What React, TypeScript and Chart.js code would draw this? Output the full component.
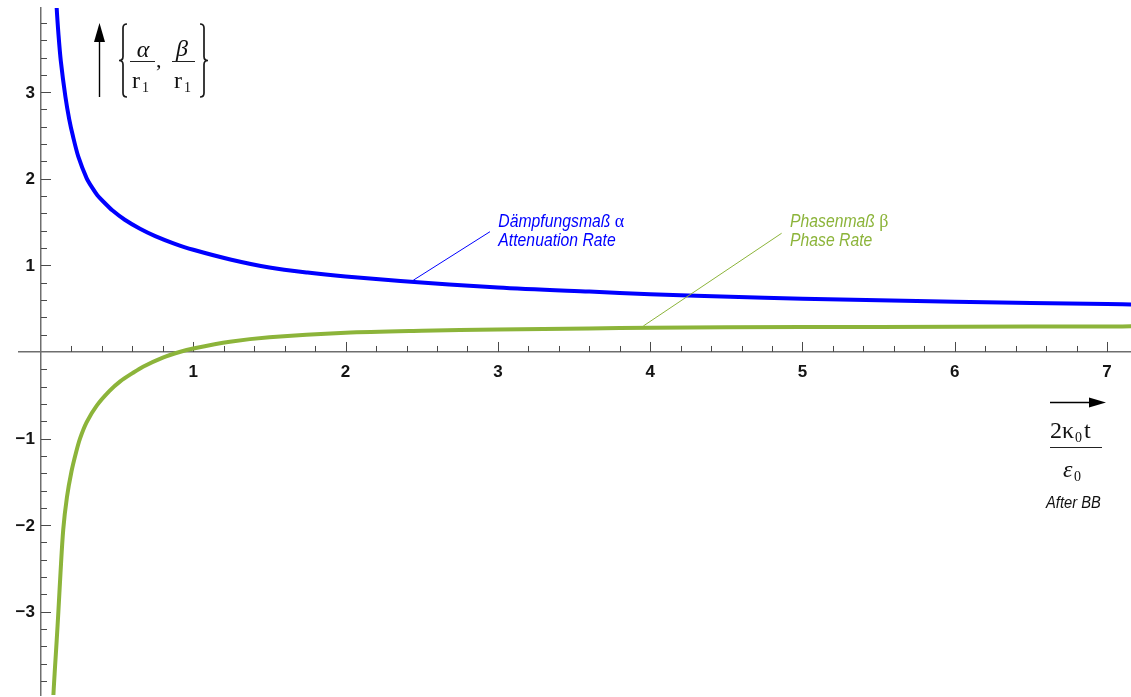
import React, { useEffect, useRef } from "react";
import { Chart, registerables } from "chart.js";

Chart.register(...registerables);

// ---- data ----
const alphaX = [0.095, 0.103, 0.115, 0.13, 0.16, 0.185, 0.21, 0.245, 0.3, 0.335, 0.37, 0.41, 0.47, 0.55, 0.65, 0.75, 0.87, 1.0, 1.25, 1.5, 1.75, 2.0, 2.36, 3.0, 3.6, 4.0, 4.3, 4.75, 5.0, 6.0, 7.0, 7.2];
const alphaY = [4.3, 3.97, 3.66, 3.36, 2.95, 2.69, 2.49, 2.255, 2.005, 1.9, 1.81, 1.735, 1.633, 1.527, 1.423, 1.338, 1.255, 1.18, 1.065, 0.975, 0.917, 0.872, 0.82, 0.745, 0.697, 0.668, 0.65, 0.627, 0.615, 0.58, 0.553, 0.548];

const betaX = [0.076, 0.081, 0.092, 0.103, 0.114, 0.128, 0.146, 0.17, 0.2, 0.23, 0.256, 0.3, 0.366, 0.45, 0.52, 0.6, 0.67, 0.8, 0.91, 1.0, 1.24, 1.5, 2.0, 2.5, 3.0, 3.6, 4.0, 5.0, 6.0, 7.0, 7.2];
const betaY = [-4.3, -3.98, -3.64, -3.33, -3.0, -2.55, -2.05, -1.68, -1.38, -1.16, -1.0, -0.81, -0.62, -0.45, -0.34, -0.245, -0.17, -0.065, 0.0, 0.04, 0.118, 0.17, 0.222, 0.245, 0.26, 0.272, 0.28, 0.287, 0.291, 0.295, 0.296];

const xTickValues = [1, 2, 3, 4, 5, 6, 7];
const xTickLabels = ["1", "2", "3", "4", "5", "6", "7"];
const yTickValues = [-3, -2, -1, 1, 2, 3];
const yTickLabels = ["\u22123", "\u22122", "\u22121", "1", "2", "3"];
const MINOR_STEP = 0.2;

const X_MIN = -0.1445;
const X_MAX = 7.157;
const Y_MIN = -3.961;
const Y_MAX = 3.972;

const BLUE = "#0000ff";
const GREEN = "#8cb43a";
const AXIS = "#6e6e6e";
const TICK = "#4a4a4a";
const LABEL = "#141414";

// annotation anchors (data coordinates)
const blueLeader = { from: [2.444, 0.828], to: [2.948, 1.389] };
const greenLeader = { from: [3.955, 0.3], to: [4.863, 1.371] };
const blueText = { x: 3.003, y: 1.443, lines: ["Dämpfungsmaß ", "Attenuation Rate"], greek: "\u03b1" };
const greenText = { x: 4.918, y: 1.443, lines: ["Phasenmaß ", "Phase Rate"], greek: "\u03b2" };

function drawText(ctx: CanvasRenderingContext2D, s: string, x: number, y: number, font: string, color: string, align: CanvasTextAlign = "left", sx = 1) {
  ctx.save();
  ctx.font = font;
  ctx.fillStyle = color;
  ctx.textAlign = align;
  ctx.textBaseline = "alphabetic";
  ctx.translate(x, y);
  ctx.scale(sx, 1);
  ctx.fillText(s, 0, 0);
  ctx.restore();
}

function line(ctx: CanvasRenderingContext2D, x1: number, y1: number, x2: number, y2: number) {
  ctx.beginPath();
  ctx.moveTo(x1, y1);
  ctx.lineTo(x2, y2);
  ctx.stroke();
}

function brace(ctx: CanvasRenderingContext2D, x: number, top: number, bottom: number, left: boolean) {
  const w = 8;
  const mid = (top + bottom) / 2;
  const outer = left ? x + w : x;
  const stem = x + w / 2;
  const tip = left ? x : x + w;
  ctx.beginPath();
  ctx.moveTo(outer, top);
  ctx.quadraticCurveTo(stem, top, stem, top + w / 2);
  ctx.lineTo(stem, mid - w / 2);
  ctx.quadraticCurveTo(stem, mid, tip, mid);
  ctx.quadraticCurveTo(stem, mid, stem, mid + w / 2);
  ctx.lineTo(stem, bottom - w / 2);
  ctx.quadraticCurveTo(stem, bottom, outer, bottom);
  ctx.stroke();
}

const decor = {
  id: "decor",
  beforeDatasetsDraw(chart: any) {
    const ctx: CanvasRenderingContext2D = chart.ctx;
    const xs = chart.scales.x;
    const ys = chart.scales.y;
    const x0 = xs.getPixelForValue(0);
    const y0 = ys.getPixelForValue(0);
    ctx.save();
    ctx.strokeStyle = TICK;
    ctx.lineWidth = 1;
    const kx0 = Math.ceil(X_MIN / MINOR_STEP);
    const kx1 = Math.floor(X_MAX / MINOR_STEP);
    for (let k = kx0; k <= kx1; k++) {
      if (k === 0) continue;
      const v = k * MINOR_STEP;
      const major = k % 5 === 0;
      const px = Math.round(xs.getPixelForValue(v)) + 0.5;
      line(ctx, px, y0, px, y0 - (major ? 10 : 6));
    }
    const ky0 = Math.ceil(Y_MIN / MINOR_STEP);
    const ky1 = Math.floor(Y_MAX / MINOR_STEP);
    for (let k = ky0; k <= ky1; k++) {
      if (k === 0) continue;
      const v = k * MINOR_STEP;
      const major = k % 5 === 0;
      const py = Math.round(ys.getPixelForValue(v)) + 0.5;
      line(ctx, x0, py, x0 + (major ? 10 : 6), py);
    }
    ctx.restore();
  },
  afterDraw(chart: any) {
    const ctx: CanvasRenderingContext2D = chart.ctx;
    const xs = chart.scales.x;
    const ys = chart.scales.y;
    const x0 = xs.getPixelForValue(0);
    const y0 = ys.getPixelForValue(0);
    const tickFont = 'bold 17px "Liberation Sans", Arial, sans-serif';

    // tick labels
    ctx.save();
    ctx.font = tickFont;
    ctx.fillStyle = LABEL;
    ctx.textBaseline = "middle";
    ctx.textAlign = "center";
    xTickValues.forEach((v, i) => {
      ctx.fillText(xTickLabels[i], xs.getPixelForValue(v), y0 + 20);
    });
    ctx.textAlign = "right";
    yTickValues.forEach((v, i) => {
      ctx.fillText(yTickLabels[i], x0 - 6, ys.getPixelForValue(v) + 1);
    });
    ctx.restore();

    // leader lines
    ctx.save();
    ctx.lineWidth = 1;
    ctx.strokeStyle = BLUE;
    line(ctx, xs.getPixelForValue(blueLeader.from[0]), ys.getPixelForValue(blueLeader.from[1]), xs.getPixelForValue(blueLeader.to[0]), ys.getPixelForValue(blueLeader.to[1]));
    ctx.strokeStyle = GREEN;
    line(ctx, xs.getPixelForValue(greenLeader.from[0]), ys.getPixelForValue(greenLeader.from[1]), xs.getPixelForValue(greenLeader.to[0]), ys.getPixelForValue(greenLeader.to[1]));
    ctx.restore();

    // annotation texts
    const annFont = 'italic 17.5px "Liberation Sans", Arial, sans-serif';
    const sx = 0.9;
    [
      { t: blueText, c: BLUE },
      { t: greenText, c: GREEN },
    ].forEach(({ t, c }) => {
      const tx = xs.getPixelForValue(t.x);
      const ty = ys.getPixelForValue(t.y);
      drawText(ctx, t.lines[0], tx, ty, annFont, c, "left", sx);
      ctx.save();
      ctx.font = annFont;
      const w = ctx.measureText(t.lines[0]).width * sx;
      ctx.restore();
      drawText(ctx, t.greek, tx + w, ty, '18px "Liberation Serif", "Times New Roman", serif', c);
      drawText(ctx, t.lines[1], tx, ty + 19, annFont, c, "left", sx);
    });

    // y-axis title: arrow and {α/r1, β/r1}
    const serif = '"Liberation Serif", "Times New Roman", serif';
    ctx.save();
    ctx.strokeStyle = "#000";
    ctx.fillStyle = "#000";
    ctx.lineWidth = 1.4;
    line(ctx, 99.5, 97, 99.5, 40);
    ctx.beginPath();
    ctx.moveTo(94, 42);
    ctx.lineTo(105, 42);
    ctx.lineTo(99.5, 23);
    ctx.closePath();
    ctx.fill();
    ctx.lineWidth = 1.7;
    ctx.strokeStyle = "#1a1a1a";
    brace(ctx, 119, 24, 97, true);
    brace(ctx, 200, 24, 97, false);
    ctx.lineWidth = 1;
    ctx.strokeStyle = "#222";
    line(ctx, 130, 61.5, 155, 61.5);
    line(ctx, 172, 61.5, 195, 61.5);
    ctx.restore();
    drawText(ctx, "\u03b1", 143, 57, `italic 24px ${serif}`, "#111", "center");
    drawText(ctx, "r", 132, 88, `24px ${serif}`, "#111");
    drawText(ctx, "1", 142, 92, `14px ${serif}`, "#111");
    drawText(ctx, ",", 156, 67, `22px ${serif}`, "#111");
    drawText(ctx, "\u03b2", 182, 56, `italic 24px ${serif}`, "#111", "center");
    drawText(ctx, "r", 174, 88, `24px ${serif}`, "#111");
    drawText(ctx, "1", 184, 92, `14px ${serif}`, "#111");

    // x-axis title: arrow and 2κ0t / ε0, After BB
    ctx.save();
    ctx.strokeStyle = "#000";
    ctx.fillStyle = "#000";
    ctx.lineWidth = 1.4;
    line(ctx, 1050, 402.5, 1092, 402.5);
    ctx.beginPath();
    ctx.moveTo(1089, 397.5);
    ctx.lineTo(1106, 402.5);
    ctx.lineTo(1089, 407.5);
    ctx.closePath();
    ctx.fill();
    ctx.lineWidth = 1;
    ctx.strokeStyle = "#222";
    line(ctx, 1050, 447.5, 1102, 447.5);
    ctx.restore();
    drawText(ctx, "2", 1050, 438, `24px ${serif}`, "#111");
    drawText(ctx, "\u03ba", 1062, 438, `24px ${serif}`, "#111");
    drawText(ctx, "0", 1075, 442, `14px ${serif}`, "#111");
    drawText(ctx, "t", 1084, 438, `24px ${serif}`, "#111");
    drawText(ctx, "\u03b5", 1063, 477, `italic 24px ${serif}`, "#111");
    drawText(ctx, "0", 1074, 481, `14px ${serif}`, "#111");
    drawText(ctx, "After BB", 1046, 508, 'italic 16px "Liberation Sans", Arial, sans-serif', "#111", "left", 0.92);
  },
};

export default function App() {
  const ref = useRef<HTMLCanvasElement>(null);
  useEffect(() => {
    const canvas = ref.current;
    if (!canvas) return;
    const chart = new Chart(canvas, {
      type: "line",
      data: {
        datasets: [
          {
            label: "alpha",
            data: alphaX.map((x, i) => ({ x, y: alphaY[i] })),
            borderColor: BLUE,
            borderWidth: 4,
            pointRadius: 0,
            fill: false,
            tension: 0.3,
          },
          {
            label: "beta",
            data: betaX.map((x, i) => ({ x, y: betaY[i] })),
            borderColor: GREEN,
            borderWidth: 4,
            pointRadius: 0,
            fill: false,
            tension: 0.3,
          },
        ],
      },
      options: {
        animation: false,
        responsive: false,
        maintainAspectRatio: false,
        events: [],
        layout: { padding: { left: 19, top: 8, right: 0, bottom: 2 } },
        plugins: { legend: { display: false }, tooltip: { enabled: false }, title: { display: false } },
        scales: {
          x: {
            type: "linear",
            min: X_MIN,
            max: X_MAX,
            position: { y: 0 } as any,
            grid: { display: true, drawOnChartArea: false, drawTicks: false, color: "rgba(0,0,0,0)" },
            border: { display: true, color: AXIS, width: 1.5 },
            ticks: { display: false },
          },
          y: {
            type: "linear",
            min: Y_MIN,
            max: Y_MAX,
            position: { x: 0 } as any,
            grid: { display: true, drawOnChartArea: false, drawTicks: false, color: "rgba(0,0,0,0)" },
            border: { display: true, color: AXIS, width: 1.5 },
            ticks: { display: false },
          },
        },
      },
      plugins: [decor],
    } as any);
    return () => chart.destroy();
  }, []);
  return (
    <div style={{ position: "absolute", left: 0, top: 0, width: 1131, height: 697, background: "#fff" }}>
      <canvas ref={ref} width={1131} height={697} style={{ display: "block" }} />
    </div>
  );
}
